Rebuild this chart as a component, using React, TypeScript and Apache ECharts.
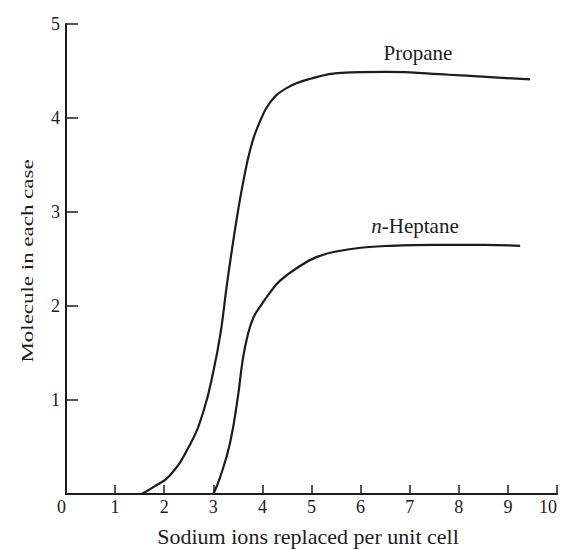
import React, { useEffect, useRef } from "react";
import * as echarts from "echarts";

const propaneX = [1.54, 1.77, 2.12, 2.53, 2.8, 3.0, 3.15, 3.27, 3.38, 3.5, 3.62, 3.76, 3.9, 4.15, 4.5, 5.0, 5.6, 6.5, 7.8, 9.45];
const propaneY = [0, 0.07, 0.2, 0.53, 0.88, 1.3, 1.72, 2.2, 2.6, 3.0, 3.35, 3.68, 3.9, 4.16, 4.32, 4.42, 4.48, 4.49, 4.46, 4.41];

const heptaneX = [3.0, 3.14, 3.34, 3.5, 3.6, 3.71, 3.82, 3.95, 4.15, 4.36, 4.75, 5.1, 5.5, 6.0, 6.6, 7.5, 8.5, 9.25];
const heptaneY = [0, 0.18, 0.54, 1.03, 1.43, 1.71, 1.88, 1.99, 2.14, 2.27, 2.42, 2.52, 2.58, 2.62, 2.64, 2.65, 2.65, 2.64];

const xTicks = [0, 1, 2, 3, 4, 5, 6, 7, 8, 9, 10];
const yTicks = [0, 1, 2, 3, 4, 5];

const seriesNames = ["Propane", "n-Heptane"];
const xTitle = "Sodium ions replaced per unit cell";
const yTitle = "Molecule in each case";

const FONT = "'Liberation Serif', 'DejaVu Serif', serif";
const INK = "#1c1c1c";

export default function App() {
  const ref = useRef<HTMLDivElement>(null);
  useEffect(() => {
    if (!ref.current) return;
    const chart = echarts.init(ref.current, undefined, { renderer: "svg" });
    const zip = (xs: number[], ys: number[]) => xs.map((x, i) => [x, ys[i]]);
    chart.setOption({
      animation: false,
      backgroundColor: "#ffffff",
      grid: { left: 66, right: 6, top: 24, bottom: 55, outerBoundsMode: "none" },
      xAxis: {
        type: "value",
        min: xTicks[0],
        max: xTicks[xTicks.length - 1],
        interval: 1,
        axisLine: { show: true, onZero: false, lineStyle: { color: INK, width: 2 } },
        axisTick: { show: true, inside: true, length: 9, lineStyle: { color: INK, width: 1.5 } },
        axisLabel: {
          fontFamily: FONT,
          fontSize: 18,
          color: INK,
          margin: 4,
          alignMinLabel: "right",
          alignMaxLabel: "right",
        },
        splitLine: { show: false },
      },
      yAxis: {
        type: "value",
        min: yTicks[0],
        max: yTicks[yTicks.length - 1],
        interval: 1,
        axisLine: { show: true, onZero: false, lineStyle: { color: INK, width: 2 } },
        axisTick: { show: true, inside: true, length: 12, lineStyle: { color: INK, width: 1.5 } },
        axisLabel: { fontFamily: FONT, fontSize: 18, color: INK, margin: 6, showMinLabel: false },
        splitLine: { show: false },
      },
      series: [
        {
          name: seriesNames[0],
          type: "line",
          data: zip(propaneX, propaneY),
          smooth: 0.45,
          showSymbol: false,
          lineStyle: { color: INK, width: 2.2 },
        },
        {
          name: seriesNames[1],
          type: "line",
          data: zip(heptaneX, heptaneY),
          smooth: 0.45,
          showSymbol: false,
          lineStyle: { color: INK, width: 2.2 },
        },
      ],
      graphic: [
        {
          type: "text",
          x: 418,
          y: 53,
          style: {
            text: seriesNames[0],
            fontFamily: FONT,
            fontSize: 21,
            fill: INK,
            align: "center",
            verticalAlign: "middle",
          },
        },
        {
          type: "text",
          x: 415,
          y: 226,
          style: {
            text: "{i|n}-Heptane",
            fontFamily: FONT,
            fontSize: 21,
            fill: INK,
            align: "center",
            verticalAlign: "middle",
            rich: { i: { fontStyle: "italic", fontFamily: FONT, fontSize: 21, fill: INK } },
          },
        },
        {
          type: "text",
          x: 308,
          y: 537,
          scaleX: 1.05,
          style: {
            text: xTitle,
            fontFamily: FONT,
            fontSize: 21,
            fill: INK,
            align: "center",
            verticalAlign: "middle",
          },
        },
        {
          type: "text",
          x: 27,
          y: 261,
          rotation: Math.PI / 2,
          scaleX: 1.35,
          style: {
            text: yTitle,
            fontFamily: FONT,
            fontSize: 17,
            fill: INK,
            align: "center",
            verticalAlign: "middle",
          },
        },
      ],
    });
    return () => chart.dispose();
  }, []);
  return (
    <div
      ref={ref}
      style={{ position: "fixed", left: 0, top: 0, width: 563, height: 549, background: "#fff" }}
    />
  );
}
